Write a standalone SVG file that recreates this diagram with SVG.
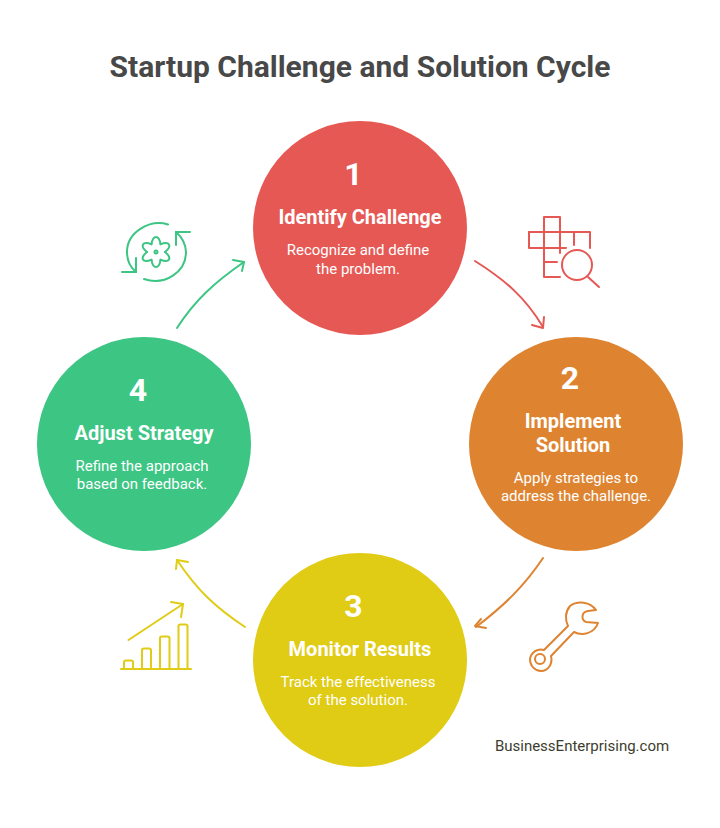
<svg xmlns="http://www.w3.org/2000/svg" width="720" height="828" viewBox="0 0 720 828">
<style>
text{font-family:Roboto,"Liberation Sans",sans-serif;text-anchor:middle}
.t{font-size:30px;font-weight:700;fill:#484848}
.n{font-size:32px;font-weight:700;fill:#fff}
.h{font-size:20px;font-weight:700;fill:#fff}
.b{font-size:15px;fill:#fff}
.i,.c{fill:none;stroke-width:2;stroke-linecap:round;stroke-linejoin:round}
.red{stroke:#e55854}.ora{stroke:#de8431}.yel{stroke:#e0cb15}.gre{stroke:#3cc583}
</style>
<defs>
<path id="lobe" d="M151.500 244.200C152 241 153 237 156 237S160 241 160.500 244.200"/>
</defs>
<rect width="720" height="828" fill="#fff"/>
<text class="t" x="360" y="77">Startup Challenge and Solution Cycle</text>
<g id="connectors" class="c">
<g class="red"><path d="M475 261C505 280 525 297 543 327"/><path d="M532 325L543 328L544 317"/></g>
<g class="ora"><path d="M543 558C525 585 505 605 476 627"/><path d="M481 619L475 626L486 628"/></g>
<g class="yel"><path d="M245 627C215 607 197 590 177 560"/><path d="M176 569L177 560L188 562"/></g>
<g class="gre"><path d="M177 328C195 300 215 282 244 262"/><path d="M233 260L244 262L242 271"/></g>
</g>
<g id="node1"><circle cx="360" cy="228" r="107" fill="#e55854"/>
<text class="n" x="353.500" y="185">1</text>
<text class="h" x="360" y="224">Identify Challenge</text>
<text class="b" x="358" y="255">Recognize and define</text>
<text class="b" x="358" y="274">the problem.</text></g>
<g id="node2"><circle cx="576" cy="444" r="107" fill="#de8431"/>
<text class="n" x="570" y="389">2</text>
<text class="h" x="573" y="428">Implement</text>
<text class="h" x="573" y="452">Solution</text>
<text class="b" x="576" y="483">Apply strategies to</text>
<text class="b" x="576" y="501">address the challenge.</text></g>
<g id="node3"><circle cx="360" cy="660" r="107" fill="#e0cb15"/>
<text class="n" x="353.500" y="617">3</text>
<text class="h" x="360" y="656">Monitor Results</text>
<text class="b" x="358" y="687">Track the effectiveness</text>
<text class="b" x="358" y="705">of the solution.</text></g>
<g id="node4"><circle cx="144" cy="444" r="107" fill="#3cc583"/>
<text class="n" x="138" y="401">4</text>
<text class="h" x="144" y="440">Adjust Strategy</text>
<text class="b" x="142" y="471">Refine the approach</text>
<text class="b" x="142" y="489">based on feedback.</text></g>
<g id="icon-puzzle" class="i red">
<path d="M544 232V217H560V253"/><path d="M529 232H590V248"/><path d="M529 232V248H566"/><path d="M544 232V277H560"/><path d="M544 262H557"/><path d="M574 232V245"/>
<circle cx="577" cy="265" r="15"/><path d="M588 277L599 287"/>
</g>
<g id="icon-wrench" class="i ora">
<path d="M596 610C590 602 578 600 570 606C565 612 565 620 568 626L544 650C538 648 531 652 530 659C530 666 535 671 541 671C548 671 553 664 551 656L574 632C582 636 594 634 598 623L586 622C581 620 581 612 588 611Z"/>
<circle cx="540" cy="659" r="5"/>
</g>
<g id="icon-chart" class="i yel">
<path d="M121 669H191"/>
<path d="M124 669V662Q124 660.500 126 660.500H131Q133 660.500 133 662V669"/>
<path d="M142 669V650Q142 648.500 144 648.500H149Q151 648.500 151 650V669"/>
<path d="M160 669V638Q160 636.500 162 636.500H167.500Q169.500 636.500 169.500 638V669"/>
<path d="M178.500 669V626Q178.500 624.500 180.500 624.500H185.500Q187.500 624.500 187.500 626V669"/>
<path d="M128.500 640L183 604"/><path d="M171 602L183 604L181 617"/>
</g>
<g id="icon-gear" class="i gre">
<path d="M168 224.500C150 219 127 232 127 252C127 259 130 267 136 272"/><path d="M122 272H136V258"/>
<path d="M144 279C165 286 186 272 186 252C186 245 182 237 176 232"/><path d="M190 232H176V245"/>
<use href="#lobe"/><use href="#lobe" transform="rotate(60 156 252)"/><use href="#lobe" transform="rotate(120 156 252)"/><use href="#lobe" transform="rotate(180 156 252)"/><use href="#lobe" transform="rotate(240 156 252)"/><use href="#lobe" transform="rotate(300 156 252)"/>
<circle cx="156" cy="252" r="1.500"/>
</g>
<text x="582" y="751" style="font-size:15px;fill:#3d3d2f">BusinessEnterprising.com</text>
</svg>
